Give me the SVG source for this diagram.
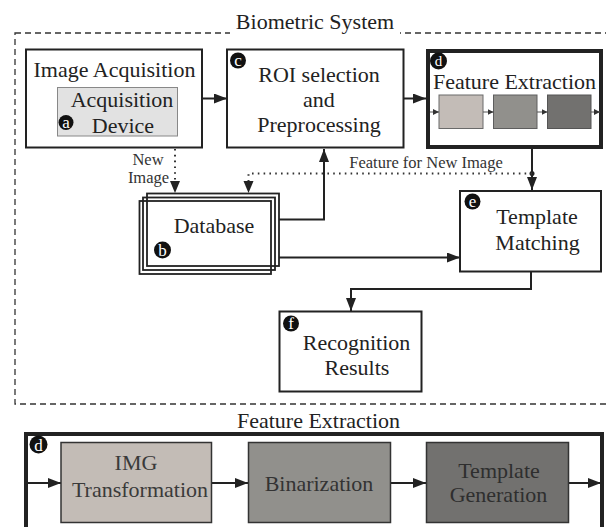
<svg xmlns="http://www.w3.org/2000/svg" width="606" height="527" viewBox="0 0 606 527">
<style>
text{font-family:"Liberation Serif","Times New Roman",serif;fill:#222;}
.t{font-size:22px;}
.s{font-size:16.5px;fill:#333;}
.box{fill:#fff;stroke:#222;stroke-width:2;}
.thick{fill:#fff;stroke:#222;stroke-width:4;}
.conn{fill:none;stroke:#222;stroke-width:2;}
.dot{fill:none;stroke:#333;stroke-width:2;stroke-dasharray:1.6 4.2;}
.badge circle{fill:#111;}
.badge text{fill:#fff;font-size:17px;text-anchor:middle;}
.small{fill:none;stroke:#555;stroke-width:1;}
.c{text-anchor:middle;}
</style>
<defs>
<marker id="ah" markerUnits="userSpaceOnUse" markerWidth="13" markerHeight="10" refX="13" refY="5" orient="auto">
<path d="M0,0 L13,5 L0,10 z" fill="#222"/>
</marker>
<marker id="sa" markerUnits="userSpaceOnUse" markerWidth="6" markerHeight="6" refX="6" refY="3" orient="auto">
<path d="M0,0 L6,3 L0,6 z" fill="#333"/>
</marker>
</defs>
<rect width="606" height="527" fill="#fff"/>

<g id="biometric-system">
<rect x="15" y="33" width="620" height="371" fill="none" stroke="#333" stroke-width="1.3" stroke-dasharray="6 4"/>
<rect x="230" y="14" width="170" height="22" fill="#fff"/>
<text class="t c" x="315" y="29">Biometric System</text>
</g>

<g id="connectors">
<path class="conn" d="M202,98.5 H227" marker-end="url(#ah)"/>
<path class="conn" d="M404,98.5 H426" marker-end="url(#ah)"/>
<path class="conn" d="M532,149 V190" marker-end="url(#ah)"/>
<circle cx="532" cy="173.5" r="2.5" fill="#222"/>
<path class="dot" d="M532,173.5 H248.5 V181"/>
<path d="M243.5,181 L253.5,181 L248.5,193 z" fill="#222"/>
<path class="dot" d="M175,149 V181"/>
<path d="M170,181 L180,181 L175,193 z" fill="#222"/>
<path class="conn" d="M279,219.5 H324 V149" marker-end="url(#ah)"/>
<path class="conn" d="M279,257.5 H460" marker-end="url(#ah)"/>
<path class="conn" d="M531,272 V289 H351 V311" marker-end="url(#ah)"/>
<text class="s" x="426" y="168" text-anchor="middle">Feature for New Image</text>
<text class="s c" x="148" y="165">New</text>
<text class="s c" x="148.5" y="183">Image</text>
</g>

<g id="image-acquisition">
<rect class="box" x="26" y="49.5" width="176" height="98"/>
<text class="t c" x="114.5" y="77">Image Acquisition</text>
<rect x="57.5" y="87.5" width="120" height="48.5" fill="#e2e2e2" stroke="#888" stroke-width="1"/>
<text class="t c" x="122" y="107">Acquisition</text>
<text class="t c" x="123" y="132.5">Device</text>
<g class="badge"><circle cx="66" cy="122.5" r="7.5"/><text x="66" y="127.5">a</text></g>
</g>

<g id="roi">
<rect class="box" x="227" y="49.5" width="176.5" height="98"/>
<text class="t c" x="319" y="82">ROI selection</text>
<text class="t c" x="319" y="107">and</text>
<text class="t c" x="319" y="132">Preprocessing</text>
<g class="badge"><circle cx="238" cy="60.5" r="8"/><text x="238" y="65.5">c</text></g>
</g>

<g id="feature-extraction">
<rect class="thick" x="428" y="51" width="173" height="96"/>
<text class="t c" x="514.5" y="89">Feature Extraction</text>
<rect x="439" y="95" width="44" height="33.5" fill="#c3bcb7" stroke="#6a6a6a" stroke-width="1"/>
<rect x="493.5" y="95" width="43.5" height="33.5" fill="#91908c" stroke="#5e5e5e" stroke-width="1"/>
<rect x="547.5" y="95" width="43.5" height="33.5" fill="#72716f" stroke="#555" stroke-width="1"/>
<path class="small" d="M430,112 H439" marker-end="url(#sa)"/>
<path class="small" d="M483,112 H493.5" marker-end="url(#sa)"/>
<path class="small" d="M537,112 H547.5" marker-end="url(#sa)"/>
<path class="small" d="M591,112 H600" marker-end="url(#sa)"/>
<g class="badge"><circle cx="438.5" cy="61" r="8.5"/><text x="438.5" y="66" style="font-size:15px">d</text></g>
</g>

<g id="database">
<rect x="147" y="193.5" width="132" height="72.5" fill="#fff" stroke="#222" stroke-width="1.8"/>
<rect x="143" y="197.5" width="132" height="72.5" fill="none" stroke="#222" stroke-width="1.8"/>
<rect x="139.5" y="201" width="131.5" height="73" fill="none" stroke="#222" stroke-width="1.8"/>
<text class="t c" x="214" y="232.5">Database</text>
<g class="badge"><circle cx="162.5" cy="250" r="8.5"/><text x="162.5" y="256">b</text></g>
</g>

<g id="template-matching">
<rect class="box" x="460" y="191" width="141" height="80.5"/>
<text class="t c" x="537" y="224">Template</text>
<text class="t c" x="537.5" y="249.5">Matching</text>
<g class="badge"><circle cx="472.5" cy="201.5" r="8"/><text x="472.5" y="206.5">e</text></g>
</g>

<g id="recognition-results">
<rect class="box" x="279.5" y="311.5" width="142" height="80"/>
<text class="t c" x="356.5" y="350">Recognition</text>
<text class="t c" x="357" y="375">Results</text>
<g class="badge"><circle cx="291" cy="323.5" r="8"/><text x="291" y="329">f</text></g>
</g>

<g id="feature-extraction-detail">
<text class="t c" x="318.5" y="428">Feature Extraction</text>
<path d="M26,540 V434 H602 V540" fill="none" stroke="#222" stroke-width="4"/>
<g class="badge"><circle cx="38.5" cy="444.5" r="9"/><text x="38.5" y="450.5">d</text></g>
<path class="conn" d="M28,483 H61" marker-end="url(#ah)"/>
<path class="conn" d="M211.5,483 H248" marker-end="url(#ah)"/>
<path class="conn" d="M390.5,483 H426" marker-end="url(#ah)"/>
<path class="conn" d="M569,483 H601" marker-end="url(#ah)"/>
</g>

<g id="img-transformation">
<rect x="61" y="442.5" width="150.5" height="80" fill="#c3bcb6" stroke="#333" stroke-width="1.5"/>
<text class="t c" x="136" y="470" style="fill:#3a3a3a">IMG</text>
<text class="t c" x="140" y="496.5" style="fill:#3a3a3a">Transformation</text>
</g>

<g id="binarization">
<rect x="248.5" y="442.5" width="142" height="80" fill="#91908c" stroke="#333" stroke-width="1.5"/>
<text class="t c" x="319" y="490.5" style="fill:#333">Binarization</text>
</g>

<g id="template-generation">
<rect x="426.5" y="442.5" width="142" height="80" fill="#72716f" stroke="#333" stroke-width="1.5"/>
<text class="t c" x="499" y="477.5" style="fill:#2e2e2e">Template</text>
<text class="t c" x="498.5" y="502" style="fill:#2e2e2e">Generation</text>
</g>
</svg>
